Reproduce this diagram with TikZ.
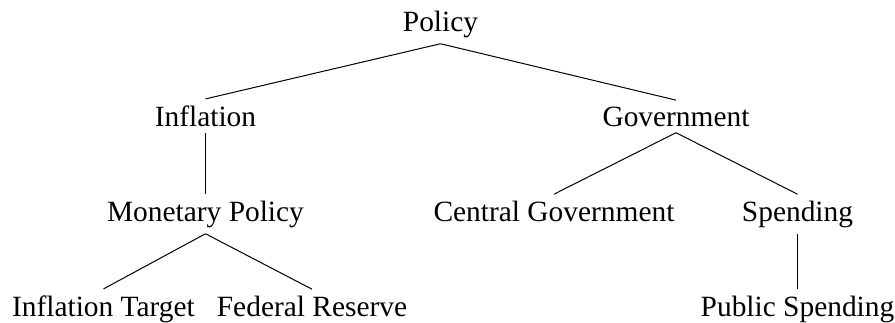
\documentclass[tikz,border=0pt]{standalone}
\usepackage{fontspec}
\setmainfont{Liberation Serif}
\begin{document}
\begin{tikzpicture}[x=0.5pt,y=-0.5pt,
  lbl/.style={anchor=base,inner xsep=0pt,inner ysep=3pt,font=\fontsize{14.7}{17}\selectfont},
  edge/.style={line width=0.5pt}]
\useasboundingbox (0,0) rectangle (895,322);
\node[lbl] (pol) at (440.5,31) {Policy};
\node[lbl] (inf) at (205.5,126) {Inflation};
\node[lbl] (gov) at (676,126) {Government};
\node[lbl] (mon) at (205.5,221) {Monetary Policy};
\node[lbl] (cen) at (554,221) {Central Government};
\node[lbl] (spe) at (797.5,221) {Spending};
\node[lbl] (it) at (103.5,316) {Inflation Target};
\node[lbl] (fed) at (312,316) {Federal Reserve};
\node[lbl] (pub) at (797.5,316) {Public Spending};
\draw[edge] (pol.south) -- (inf.north);
\draw[edge] (pol.south) -- (gov.north);
\draw[edge] (inf.south) -- (mon.north);
\draw[edge] (gov.south) -- (cen.north);
\draw[edge] (gov.south) -- (spe.north);
\draw[edge] (mon.south) -- (it.north);
\draw[edge] (mon.south) -- (fed.north);
\draw[edge] (spe.south) -- (pub.north);
\end{tikzpicture}
\end{document}
